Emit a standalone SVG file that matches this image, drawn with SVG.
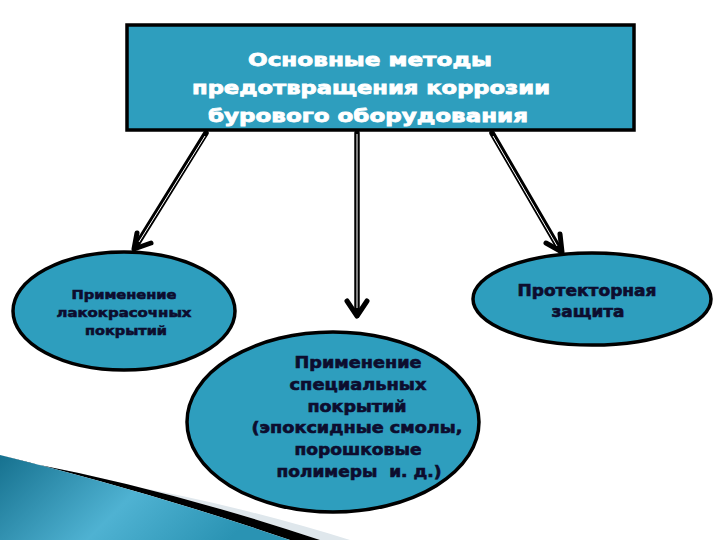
<svg xmlns="http://www.w3.org/2000/svg" width="720" height="540" viewBox="0 0 720 540">
  <style>
    .node { fill: #2e9ebe; stroke: #000; stroke-width: 3.5; }
    .title { font-family: "DejaVu Sans", "Liberation Sans", sans-serif; font-weight: bold; font-size: 18px; fill: #ffffff; stroke: #ffffff; stroke-width: 0.8; text-anchor: middle; }
    .lbl { font-family: "DejaVu Sans", "Liberation Sans", sans-serif; font-weight: bold; fill: #0d0d2e; stroke: #0d0d2e; stroke-width: 0.6; text-anchor: middle; }
    .shaft { fill: none; stroke: #000; stroke-width: 5.5; stroke-linecap: round; }
    .core { fill: none; stroke: #ffffff; stroke-width: 1; }
    .head { fill: none; stroke: #000; stroke-width: 5; stroke-linecap: round; stroke-linejoin: round; }
  </style>
  <defs>
    <linearGradient id="teal" x1="0" y1="0" x2="1" y2="0.3">
      <stop offset="0" stop-color="#16718f"/>
      <stop offset="0.55" stop-color="#4fb2d2"/>
      <stop offset="1" stop-color="#2a93b3"/>
    </linearGradient>
  </defs>
  <rect width="720" height="540" fill="#ffffff"/>

  <!-- bottom-left decoration -->
  <g id="decoration">
    <path d="M120,484 Q230,503 350,540 L320,540 Q170,490 30,463 Z" fill="#dfe7ec"/>
    <path d="M30,463 Q170,490 320,540 L290,540 Q150,492 0,455 Z" fill="#000"/>
    <path d="M0,455 Q150,492 290,540 L0,540 Z" fill="url(#teal)"/>
  </g>

  <!-- connectors -->
  <g id="connectors">
    <line class="shaft" x1="206" y1="133" x2="136" y2="246"/>
    <line class="core" x1="205" y1="136" x2="139" y2="242"/>
    <polyline class="head" points="137,233 134,249 151,243"/>

    <line class="shaft" x1="357" y1="133" x2="357" y2="314"/>
    <line class="core" x1="357" y1="134" x2="357" y2="308"/>
    <polyline class="head" points="347,301 357,316 367,301"/>

    <line class="shaft" x1="492" y1="133" x2="560" y2="250"/>
    <line class="core" x1="493" y1="136" x2="557" y2="246"/>
    <polyline class="head" points="560,234 562,252 546,243"/>
  </g>

  <g id="root">
    <rect class="node" x="127" y="25" width="507" height="105"/>
    <text class="title" x="370" y="66" textLength="244" lengthAdjust="spacingAndGlyphs">Основные методы</text>
    <text class="title" x="371" y="94" textLength="358" lengthAdjust="spacingAndGlyphs">предотвращения коррозии</text>
    <text class="title" x="368" y="122" textLength="320" lengthAdjust="spacingAndGlyphs">бурового оборудования</text>
  </g>

  <g id="paint">
    <ellipse class="node" cx="124" cy="311" rx="111" ry="59"/>
    <text class="lbl" font-size="13" x="124" y="299" textLength="105" lengthAdjust="spacingAndGlyphs">Применение</text>
    <text class="lbl" font-size="13" x="124" y="317" textLength="135" lengthAdjust="spacingAndGlyphs">лакокрасочных</text>
    <text class="lbl" font-size="13" x="126" y="335" textLength="82" lengthAdjust="spacingAndGlyphs">покрытий</text>
  </g>

  <g id="protector">
    <ellipse class="node" cx="592" cy="299" rx="119" ry="46"/>
    <text class="lbl" font-size="15" x="587" y="296" textLength="139" lengthAdjust="spacingAndGlyphs">Протекторная</text>
    <text class="lbl" font-size="15" x="588" y="317" textLength="73" lengthAdjust="spacingAndGlyphs">защита</text>
  </g>

  <g id="special">
    <ellipse class="node" cx="333" cy="422" rx="146" ry="90"/>
    <text class="lbl" font-size="15" x="358" y="368" textLength="127" lengthAdjust="spacingAndGlyphs">Применение</text>
    <text class="lbl" font-size="15" x="358" y="390" textLength="137" lengthAdjust="spacingAndGlyphs">специальных</text>
    <text class="lbl" font-size="15" x="357" y="412" textLength="99" lengthAdjust="spacingAndGlyphs">покрытий</text>
    <text class="lbl" font-size="15" x="357" y="433" textLength="211" lengthAdjust="spacingAndGlyphs">(эпоксидные смолы,</text>
    <text class="lbl" font-size="15" x="358" y="455" textLength="127" lengthAdjust="spacingAndGlyphs">порошковые</text>
    <text class="lbl" font-size="15" x="359" y="477" textLength="165" lengthAdjust="spacingAndGlyphs" xml:space="preserve">полимеры  и. д.)</text>
  </g>
</svg>
